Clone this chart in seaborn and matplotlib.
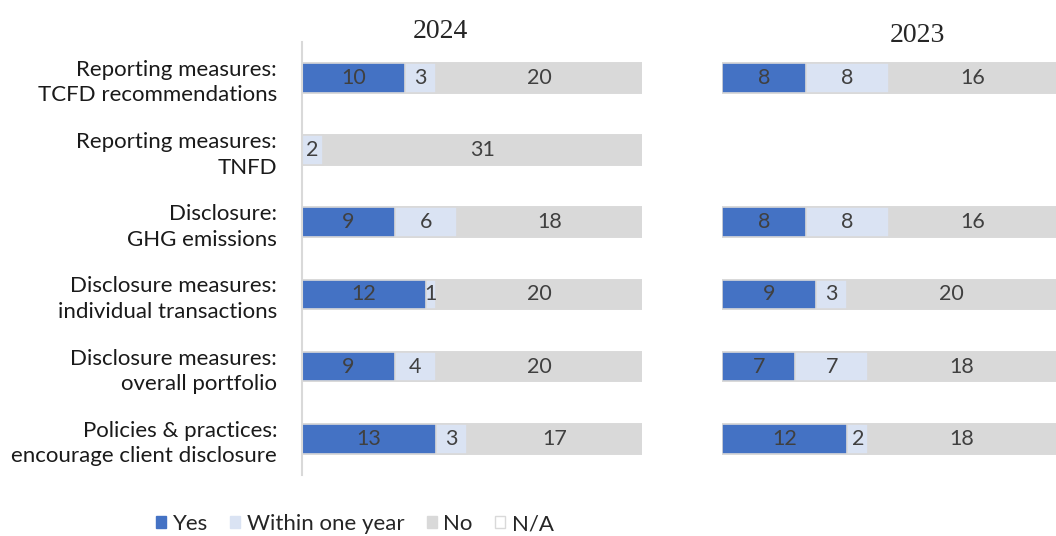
import numpy as np
import pandas as pd
import matplotlib
matplotlib.use("Agg")
import matplotlib.pyplot as plt
import seaborn as sns
from matplotlib.patches import Patch

# Categories (top to bottom)
labels = [
    "Reporting measures:\nTCFD recommendations",
    "Reporting measures:\nTNFD",
    "Disclosure:\nGHG emissions",
    "Disclosure measures:\nindividual transactions",
    "Disclosure measures:\noverall portfolio",
    "Policies & practices:\nencourage client disclosure",
]
series = ["Yes", "Within one year", "No", "N/A"]
colors = ["#4472C4", "#DAE3F3", "#D9D9D9", "#FFFFFF"]

# 2024 values
yes_2024 = [10, 0, 9, 12, 9, 13]
within_2024 = [3, 2, 6, 1, 4, 3]
no_2024 = [20, 31, 18, 20, 20, 17]
na_2024 = [0, 0, 0, 0, 0, 0]

# 2023 values (TNFD not asked)
yes_2023 = [8, np.nan, 8, 9, 7, 12]
within_2023 = [8, np.nan, 8, 3, 7, 2]
no_2023 = [16, np.nan, 16, 20, 18, 18]
na_2023 = [0, np.nan, 0, 0, 0, 0]

sns.set_style("white")
plt.rcParams["font.family"] = ["Lato", "DejaVu Sans"]

fig = plt.figure(figsize=(10.56, 5.36), dpi=100)
ax1 = fig.add_axes([0.286, 0.114, 0.322, 0.808])
ax2 = fig.add_axes([0.684, 0.114, 0.316, 0.808])


def stacked(ax, vals, total):
    df = pd.DataFrame(dict(zip(series, vals)), index=labels)
    cum = df.cumsum(axis=1)
    # draw longest first so shorter segments sit on top
    for s, c in reversed(list(zip(series, colors))):
        sns.barplot(x=cum[s].values, y=labels, order=labels, orient="h",
                    color=c, edgecolor="#D9D9D9", linewidth=1.2,
                    width=0.41, saturation=1, ax=ax)
    for i, lab in enumerate(labels):
        left = 0
        for s in series:
            v = df.loc[lab, s]
            if pd.notna(v) and v > 0:
                ax.text(left + v / 2, i, f"{int(v)}", ha="center", va="center",
                        fontsize=15.5, color="#404040")
                left += v
    ax.set_xlim(0, total)
    ax.set_ylim(len(labels) - 0.5, -0.5)
    ax.set_xlabel("")
    ax.set_ylabel("")
    ax.set_xticks([])
    for sp in ax.spines.values():
        sp.set_visible(False)


stacked(ax1, [yes_2024, within_2024, no_2024, na_2024], 33)
stacked(ax2, [yes_2023, within_2023, no_2023, na_2023], 32)

ax1.spines["left"].set_visible(True)
ax1.spines["left"].set_color("#D9D9D9")
ax1.spines["left"].set_linewidth(1.5)
ax1.tick_params(axis="y", length=0, pad=18, labelsize=16, labelcolor="#1a1a1a")
for t in ax1.get_yticklabels():
    t.set_ha("right")
    t.set_multialignment("right")
    t.set_linespacing(1.35)
ax2.set_yticks([])

fig.text(0.417, 0.942, "2024", ha="center", va="center", fontsize=20,
         family="Liberation Serif")
fig.text(0.869, 0.934, "2023", ha="center", va="center", fontsize=20,
         family="Liberation Serif")

handles = [Patch(facecolor=c, edgecolor="#D9D9D9" if s == "N/A" else c, label=s)
           for s, c in zip(series, colors)]
fig.legend(handles=handles, loc="center", bbox_to_anchor=(0.336, 0.022), ncol=4,
           frameon=False, fontsize=16, handlelength=0.45, handleheight=0.45,
           handletextpad=0.3, columnspacing=1.0)

fig.savefig("out.png", dpi=100)
